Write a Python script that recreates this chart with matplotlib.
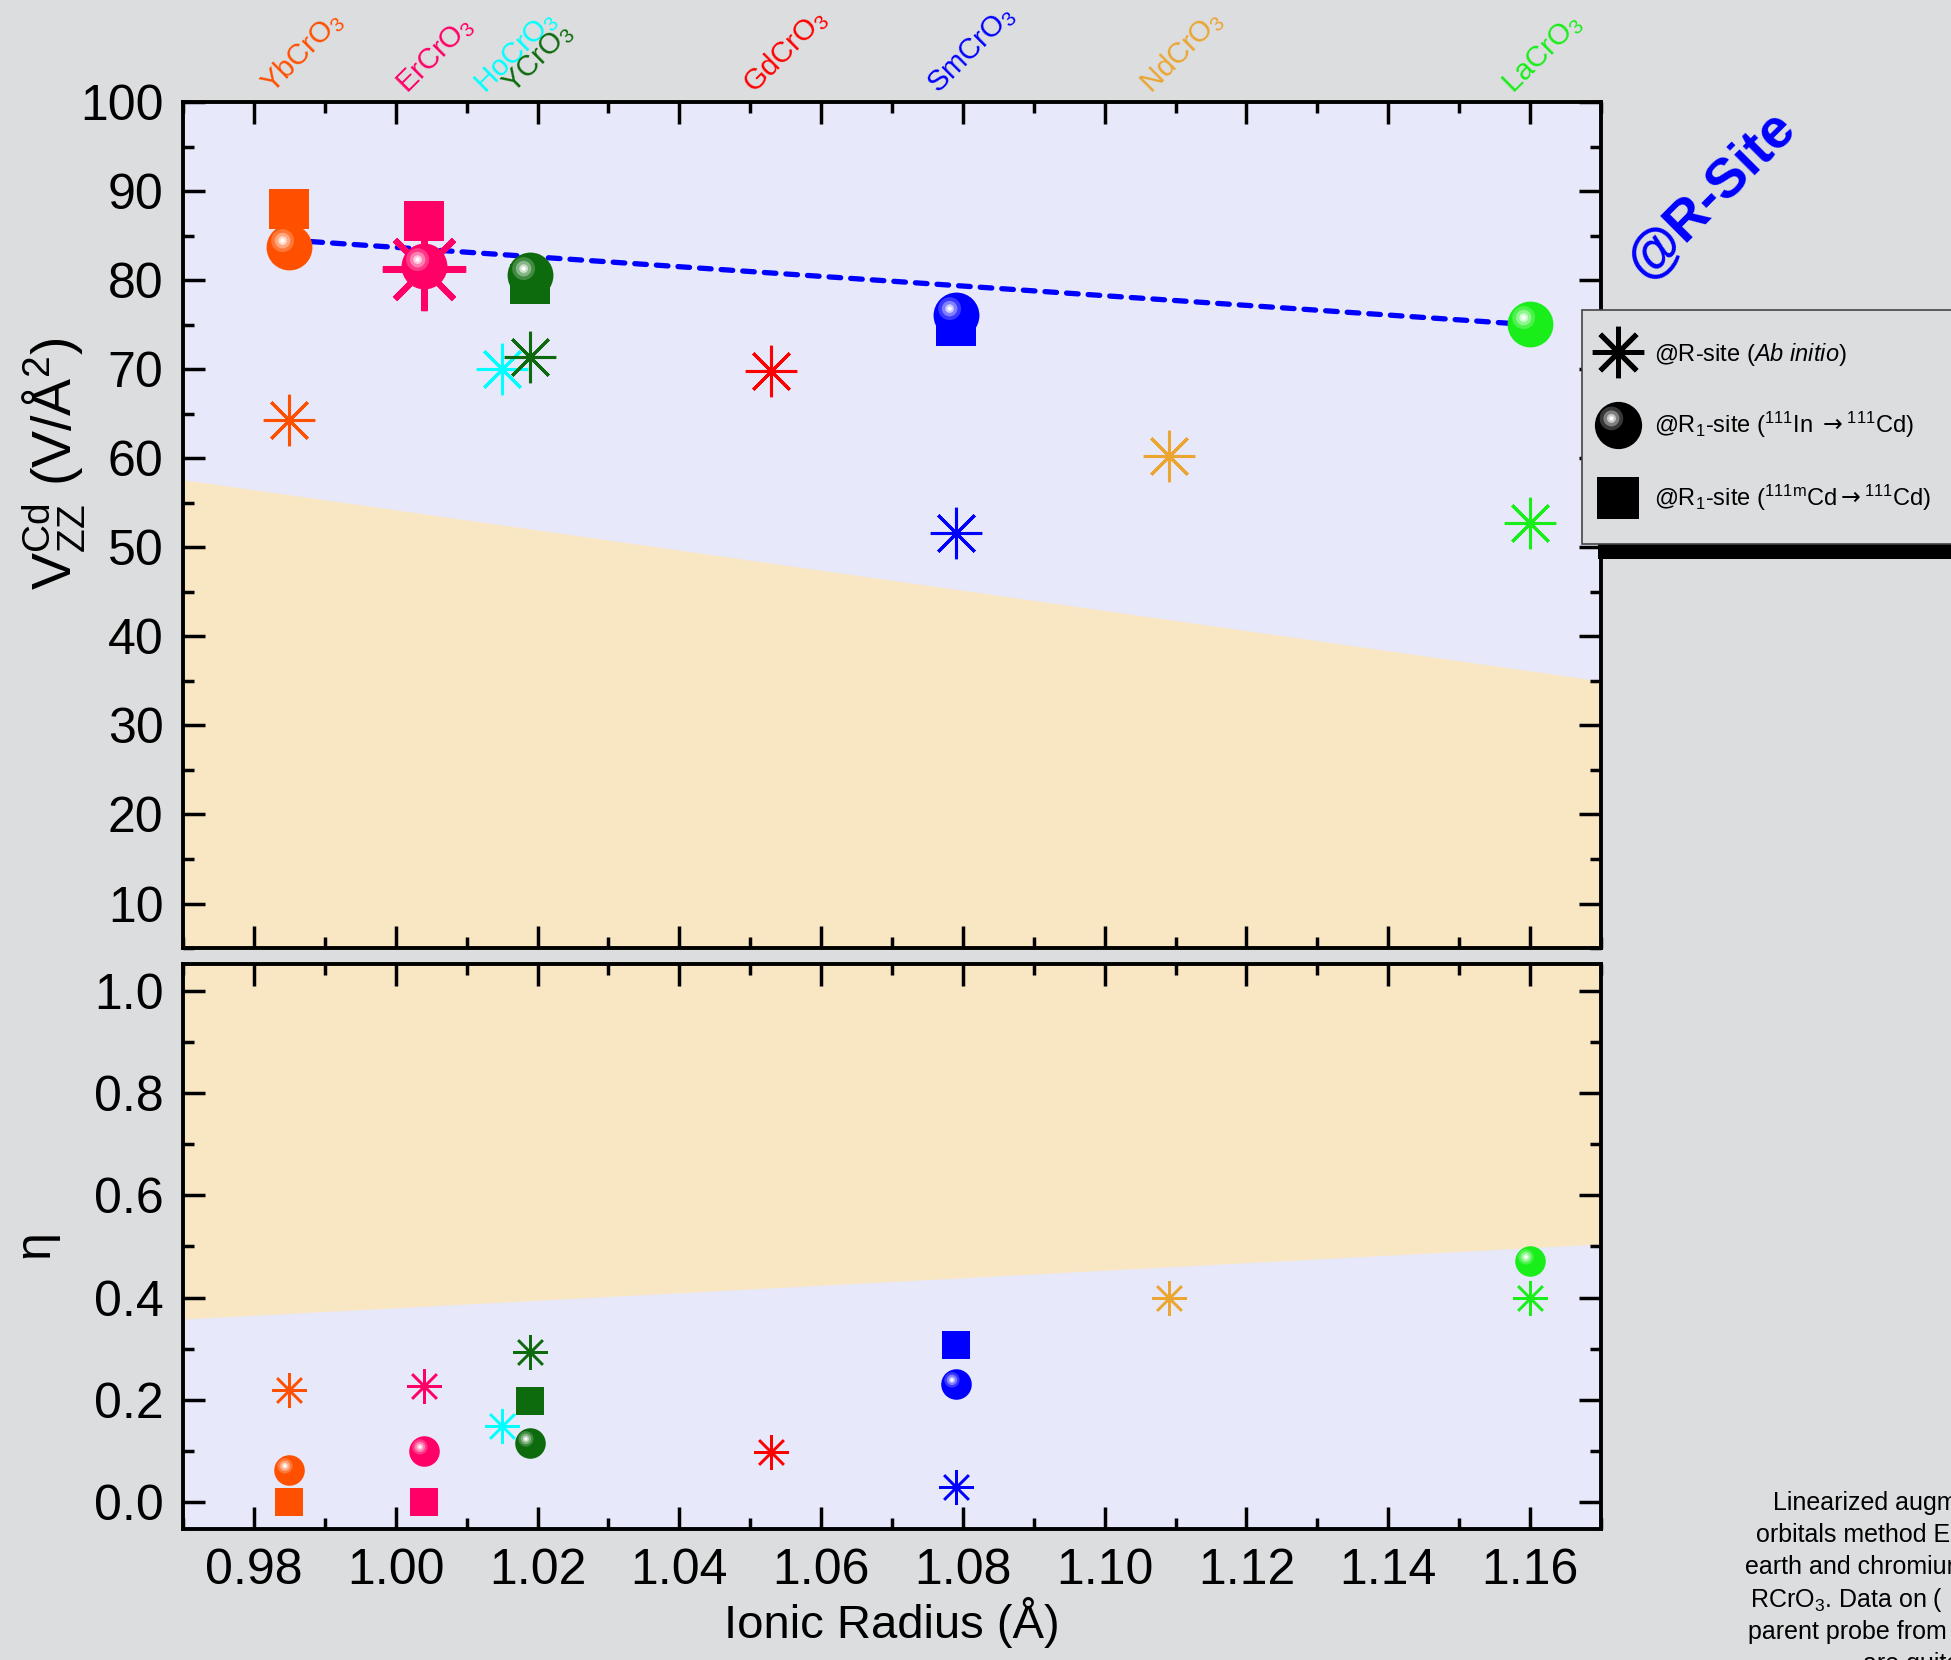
import numpy as np
import matplotlib
matplotlib.use('Agg')
import matplotlib.pyplot as plt
from matplotlib.path import Path
from matplotlib.lines import Line2D
from matplotlib.patches import Rectangle
from matplotlib.legend_handler import HandlerTuple
from matplotlib.ticker import MultipleLocator, FormatStrFormatter
import matplotlib.colors as mcolors

plt.rcParams['font.family'] = ['Liberation Sans', 'DejaVu Sans']
plt.rcParams['mathtext.fontset'] = 'custom'
plt.rcParams['mathtext.rm'] = 'Liberation Sans'
plt.rcParams['mathtext.it'] = 'Liberation Sans:italic'
plt.rcParams['mathtext.bf'] = 'Liberation Sans:bold'
plt.rcParams['mathtext.sf'] = 'DejaVu Sans'

'''
dados
'''
compostos = ['YbCrO$_3$', 'ErCrO$_3$', 'HoCrO$_3$', 'YCrO$_3$',
             'GdCrO$_3$', 'SmCrO$_3$', 'NdCrO$_3$', 'LaCrO$_3$']
raio = [0.985, 1.004, 1.015, 1.019, 1.053, 1.079, 1.109, 1.160]
cores = ['#ff5000', '#ff0066', '#00ffff', '#0d6a0d',
         '#ff0000', '#0000ff', '#eba531', '#1aee1a']

# calculo ab initio (todos os compostos)
vzz_calc = [64.3, 81.2, 70.0, 71.4, 69.8, 51.6, 60.3, 52.7]
eta_calc = [0.220, 0.227, 0.149, 0.293, 0.098, 0.030, 0.400, 0.400]

# 111In -> 111Cd
idx_in = [0, 1, 3, 5, 7]
vzz_in = [83.7, 81.6, 80.6, 76.1, 75.1]
eta_in = [0.062, 0.100, 0.115, 0.230, 0.471]

# 111mCd -> 111Cd
idx_cd = [0, 1, 3, 5]
vzz_cd = [88.0, 86.7, 79.6, 74.8]
eta_cd = [0.000, 0.000, 0.198, 0.307]

# reta ajustada e faixas sombreadas
ajuste_r = [0.985, 1.160]
ajuste_vzz = [84.5, 75.0]
faixa_r = [0.97, 1.17]
faixa_vzz = [57.6, 35.0]
faixa_eta = [0.358, 0.505]

cinza = '#dcdddf'
lilas = '#e8e8fb'
trigo = '#f9e6c3'


def brilho(raio_b, cx=-0.30, cy=0.30):
    # circulo deslocado + pontos degenerados para manter a escala do marcador
    c = Path.circle((cx, cy), raio_b)
    caixa = Path([(1, 1), (1, 1), (-1, -1), (-1, -1)],
                 [Path.MOVETO, Path.LINETO, Path.MOVETO, Path.LINETO])
    return Path.make_compound_path(c, caixa)


def clarear(cor, f):
    rgb = np.array(mcolors.to_rgb(cor))
    return tuple(rgb * (1 - f) + f)


def esfera(ax, x, y, cor, ms, z=5):
    linhas = [Line2D([x], [y], ls='none', marker='o', ms=ms, color=cor, mew=0, zorder=z)]
    for rb, f in [(0.50, 0.22), (0.34, 0.50), (0.19, 0.80), (0.09, 1.0)]:
        linhas.append(Line2D([x], [y], ls='none', marker=brilho(rb), ms=ms,
                             color=clarear(cor, f), mew=0, zorder=z))
    if ax is not None:
        for l in linhas:
            ax.add_line(l)
    return tuple(linhas)


fig = plt.figure(figsize=(19.51, 16.60), dpi=100, facecolor=cinza)
ax1 = fig.add_axes([0.0938, 0.4289, 0.7268, 0.5096], facecolor=lilas)
ax2 = fig.add_axes([0.0938, 0.0789, 0.7268, 0.3404], facecolor=lilas)

'''
painel superior: Vzz
'''
ax1.fill_between(faixa_r, faixa_vzz, -10, color=trigo, lw=0, zorder=0.5)
ax1.plot(ajuste_r, ajuste_vzz, color='#0000ff', lw=3.8, dashes=(2.2, 1.9),
         dash_capstyle='round', zorder=2)

for i, v in zip(idx_cd, vzz_cd):
    ax1.plot(raio[i], v, 's', ms=29, color=cores[i], mew=0, zorder=3)
for i, v in enumerate(vzz_calc):
    grande = compostos[i] == 'ErCrO$_3$'
    ax1.plot(raio[i], v, ls='none', marker=(8, 2, 0), ms=60 if grande else 37,
             mec=cores[i], mew=4.4 if grande else 2.2, zorder=4)
for i, v in zip(idx_in, vzz_in):
    esfera(ax1, raio[i], v, cores[i], 33)

'''
painel inferior: eta
'''
ax2.fill_between(faixa_r, faixa_eta, 2, color=trigo, lw=0, zorder=0.5)
for i, e in zip(idx_cd, eta_cd):
    ax2.plot(raio[i], e, 's', ms=20, color=cores[i], mew=0, zorder=3)
for i, e in enumerate(eta_calc):
    ax2.plot(raio[i], e, ls='none', marker=(8, 2, 0), ms=25,
             mec=cores[i], mew=1.8, zorder=4)
for i, e in zip(idx_in, eta_in):
    esfera(ax2, raio[i], e, cores[i], 22)

'''
eixos
'''
for ax in (ax1, ax2):
    ax.set_xlim(0.97, 1.17)
    ax.xaxis.set_major_locator(MultipleLocator(0.02))
    ax.xaxis.set_minor_locator(MultipleLocator(0.01))
    ax.tick_params(which='both', direction='in', top=True, right=True,
                   width=2.5, labelsize=36, pad=14)
    ax.tick_params(which='major', length=16)
    ax.tick_params(which='minor', length=8)
    for s in ax.spines.values():
        s.set_linewidth(2.8)

ax1.set_ylim(5, 100)
ax1.yaxis.set_major_locator(MultipleLocator(10))
ax1.yaxis.set_minor_locator(MultipleLocator(5))
ax1.tick_params(labelbottom=False)
ax1.set_ylabel(r'$\mathrm{V}_{\mathrm{ZZ}}^{\mathrm{Cd}}$ (V/Å$^2$)', fontsize=40)
ax1.yaxis.set_label_coords(-0.067, 0.573)

ax2.set_ylim(-0.053, 1.053)
ax2.yaxis.set_major_locator(MultipleLocator(0.2))
ax2.yaxis.set_minor_locator(MultipleLocator(0.1))
ax2.yaxis.set_major_formatter(FormatStrFormatter('%.1f'))
ax2.xaxis.set_major_formatter(FormatStrFormatter('%.2f'))
ax2.set_ylabel('η', fontsize=36)
ax2.yaxis.set_label_coords(-0.088, 0.504)
ax2.set_xlabel('Ionic Radius (Å)', fontsize=34, labelpad=2)

# nomes dos compostos no topo
for nome, r, c in zip(compostos, raio, cores):
    ax1.annotate(nome, xy=(r, 1), xycoords=('data', 'axes fraction'),
                 xytext=(-9, 2), textcoords='offset points', rotation=45,
                 rotation_mode='anchor', ha='left', va='bottom',
                 color=c, fontsize=21, annotation_clip=False)

fig.text(1712 / 1951, 1 - 195 / 1660, '@R-Site', rotation=45, ha='center',
         va='center', color='#0000ff', fontsize=40, fontweight='bold')

'''
legenda
'''
seta = r'$\mathsf{\rightarrow}$'
h_ast = Line2D([], [], ls='none', marker=(8, 2, 0), ms=37, mec='k', mew=3.6)
h_esf = esfera(None, 0, 0, '#000000', 34)
h_sq = Line2D([], [], ls='none', marker='s', ms=30, color='k', mew=0)
leg = fig.legend([h_ast, h_esf, h_sq],
                 [r'@R-site ($\mathit{Ab\ initio}$)',
                  r'@R$_1$-site ($^{111}$In ' + seta + r'$^{111}$Cd)',
                  r'@R$_1$-site ($^{111\mathrm{m}}$Cd' + seta + r'$^{111}$Cd)'],
                 loc='upper left', mode='expand',
                 bbox_to_anchor=(1582 / 1951, 1 - 533 / 1660, 500 / 1951, 223 / 1660),
                 fancybox=False, facecolor=cinza, edgecolor='#444444', framealpha=1,
                 fontsize=17, borderpad=1.3, labelspacing=1.8, handlelength=0.45,
                 handletextpad=1.3, borderaxespad=0,
                 handler_map={tuple: HandlerTuple(ndivide=1)})
leg.get_frame().set_linewidth(1.2)
leg.set_zorder(6)

fig.canvas.draw()
bb = leg.get_window_extent()
sombra = Rectangle((bb.x0 + 16, bb.y0 - 15), bb.width, bb.height,
                   transform=None, facecolor='k', edgecolor='none', zorder=5)
fig.patches.append(sombra)

# legenda da figura (cortada na borda)
texto = [('Linearized augmented', 1773, 1503),
         ('orbitals method EFG', 1756, 1535),
         ('earth and chromium', 1745, 1567),
         ('RCrO$_3$. Data on (', 1750, 1600),
         ('parent probe from', 1748, 1632),
         ('are quite', 1863, 1664)]
for t, x, y in texto:
    fig.text(x / 1951, 1 - y / 1660, t, ha='left', va='center', fontsize=18)

fig.savefig('out.png', dpi=100, facecolor=fig.get_facecolor())
